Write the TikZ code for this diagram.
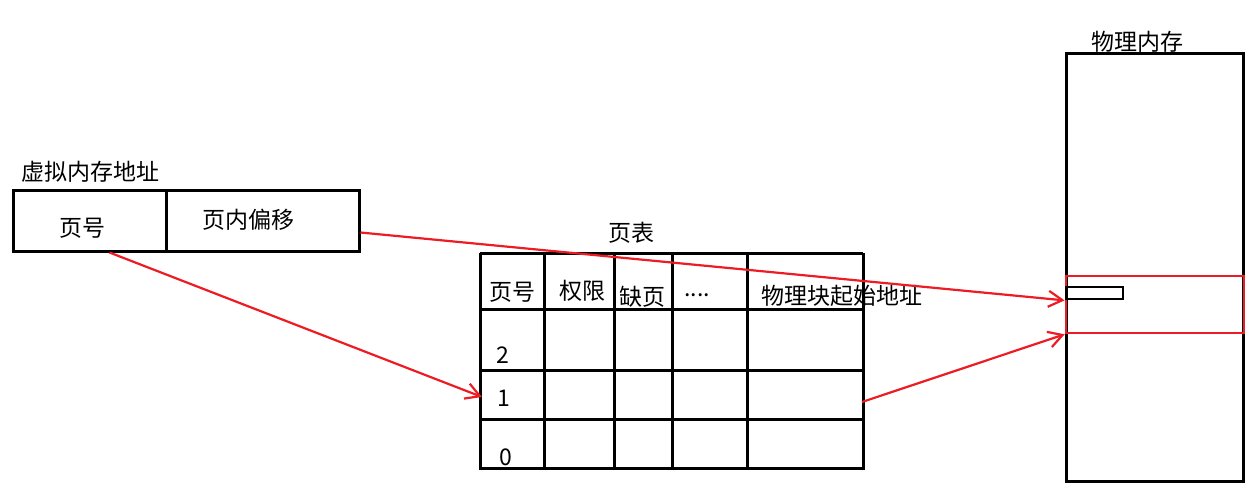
\documentclass[tikz,border=0pt]{standalone}
\usepackage{fontspec}
\setmainfont{Noto Sans CJK SC}
\usetikzlibrary{arrows.meta}
\definecolor{paintred}{HTML}{ED1C24}
\begin{document}
\begin{tikzpicture}[x=1pt,y=-1pt,
	box/.style={draw=black,line width=3pt,rectangle,inner sep=0pt},
	lbl/.style={inner sep=0pt,font=\fontsize{23pt}{26pt}\selectfont},
	link/.style={draw=paintred,line width=2.2pt,-{Straight Barb[length=14pt,width=16pt,line width=2.2pt]}}]
	\useasboundingbox (0,0) rectangle (1251,487);
	% virtual address
	\node(vtitle)[lbl] at (90,172) {虚拟内存地址};
	\node(vpn)[box,minimum width=153pt,minimum height=61pt] at (89.5,220.5) {};
	\node(off)[box,minimum width=193pt,minimum height=61pt] at (262.5,220.5) {};
	\node(vpnl)[lbl] at (82,228) {页号};
	\node(offl)[lbl] at (248,220) {页内偏移};
	% page table
	\node(ptitle)[lbl] at (631,233) {页表};
	\foreach \y in {253,309,370,419,468}
		\draw[line width=3pt] (480,\y) -- (863,\y);
	\foreach \x in {480,544,614,672,747,863}
		\draw[line width=3pt] (\x,253) -- (\x,470);
	\node(h1)[lbl] at (512,292) {页号};
	\node(h2)[lbl] at (582,291) {权限};
	\node(h3)[lbl] at (642,297) {缺页};
	\node(h4)[lbl] at (697,295) {....};
	\node(h5)[lbl] at (842,296) {物理块起始地址};
	\node(r2)[lbl] at (503,355) {2};
	\node(r1)[lbl] at (504,398) {1};
	\node(r0)[lbl] at (506,457) {0};
	\coordinate(row1) at (482,397);
	\coordinate(addr1) at (862,402);
	% physical memory
	\node(mtitle)[lbl] at (1137,42) {物理内存};
	\node(mem)[box,minimum width=177pt,minimum height=427pt] at (1154.5,267.5) {};
	\node(frame)[box,draw=paintred,line width=2.6pt,minimum width=178pt,minimum height=57pt] at (1155,304.5) {};
	\node(word)[box,line width=2.8pt,minimum width=57pt,minimum height=12pt] at (1094.5,293) {};
	% links
	\draw[link] ([xshift=20pt]vpn.south) -- (row1);
	\draw[link] ([yshift=-12pt]off.east) -- (word.south west);
	\draw[link] (addr1) -- (frame.south west);
\end{tikzpicture}
\end{document}
